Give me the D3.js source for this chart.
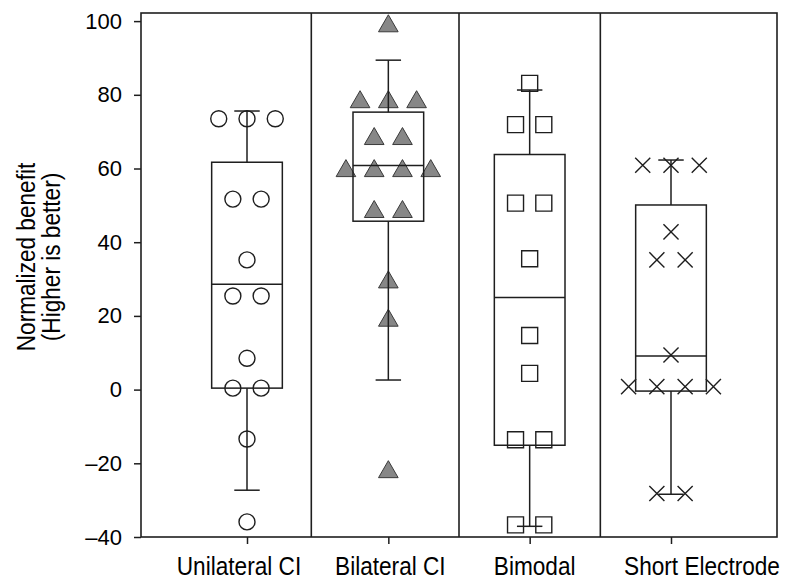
<!DOCTYPE html>
<html>
<head>
<meta charset="utf-8">
<script src="https://cdn.jsdelivr.net/npm/d3@7"></script>
<style>
  body { margin: 0; background: #fff; }
  svg { display: block; font-family: "Liberation Sans", Arial, sans-serif; }
</style>
</head>
<body>
<svg width="787" height="582"></svg>
<script>
// categorias e dados
const categories = ['Unilateral CI', 'Bilateral CI', 'Bimodal', 'Short Electrode'];
const markers = ['circle', 'triangle', 'square', 'cross'];

const unilateral = [73.5, 73.5, 73.5, 51.7, 51.7, 35.2, 25.4, 25.4, 8.5, 0.4, 0.4, -13.4, -35.9];
const bilateral = [99.4, 78.8, 78.8, 78.8, 68.8, 68.8, 60.1, 60.1, 60.1, 60.1, 49.0, 49.0, 29.9, 19.5, -21.6];
const bimodal = [83.1, 71.9, 71.9, 50.6, 50.6, 35.5, 14.7, 4.4, -13.6, -13.6, -36.7, -36.7];
const shortElectrode = [60.9, 60.9, 60.9, 42.8, 35.2, 35.2, 9.4, 0.8, 0.8, 0.8, 0.8, -28.2, -28.2];
const seriesValues = [unilateral, bilateral, bimodal, shortElectrode];

// estatísticas das caixas
const q1 = [0.4, 45.7, -15.1, -0.4];
const median = [28.6, 60.8, 25.0, 9.1];
const q3 = [61.7, 75.3, 63.8, 50.1];
const whiskerLow = [-27.3, 2.6, -37.1, -28.4];
const whiskerHigh = [75.6, 89.4, 81.3, 62.3];

const yTicks = [-40, -20, 0, 20, 40, 60, 80, 100];
const dividers = [1.455, 2.5, 3.5];

function drawChart() {
  const svg = d3.select('svg');
  const left = 141, right = 777, top = 13, bottom = 537;
  const ink = '#1e1e1e';

  const x = d3.scaleLinear().domain([0.25, 4.75]).range([left, right]);
  const y = d3.scaleLinear().domain([-40, 102.2]).range([bottom, top]);

  // Eixo Y
  const gy = svg.append('g')
    .attr('transform', `translate(${left},0)`)
    .call(d3.axisLeft(y).tickValues(yTicks).tickSize(7).tickPadding(12)
      .tickFormat(d => d < 0 ? '\u2013' + Math.abs(d) : d));
  gy.select('.domain').remove();
  gy.selectAll('line').attr('stroke', ink).attr('stroke-width', 1.5);
  gy.selectAll('text').attr('font-size', 22).attr('fill', '#000');

  // Eixo X
  const gx = svg.append('g')
    .attr('transform', `translate(0,${bottom})`)
    .call(d3.axisBottom(x).tickValues([1, 2, 3, 4]).tickSize(7).tickFormat(''));
  gx.select('.domain').remove();
  gx.selectAll('line').attr('stroke', ink).attr('stroke-width', 1.5);

  // moldura e divisórias
  const frame = svg.append('g').attr('stroke', ink).attr('stroke-width', 1.6).attr('fill', 'none');
  frame.append('rect')
    .attr('x', left).attr('y', top)
    .attr('width', right - left).attr('height', bottom - top);
  frame.selectAll('line.div')
    .data(dividers)
    .join('line')
    .attr('class', 'div')
    .attr('x1', d => x(d)).attr('x2', d => x(d))
    .attr('y1', top).attr('y2', bottom);

  // pontos: valores iguais ficam lado a lado
  const symbols = {
    circle: d3.symbol(d3.symbolCircle, 201),
    triangle: d3.symbol(d3.symbolTriangle, 167),
    square: d3.symbol(d3.symbolSquare, 256),
    cross: d3.symbol(d3.symbolX, 150)
  };
  const spacing = 0.2;

  seriesValues.forEach((values, i) => {
    const groups = d3.group(values, v => v);
    const pts = [];
    for (const [v, arr] of groups) {
      arr.forEach((_, k) => pts.push({ v, off: (k - (arr.length - 1) / 2) * spacing }));
    }
    const kind = markers[i];
    const shiftY = kind === 'triangle' ? 2.8 : 0;
    svg.append('g').selectAll('path')
      .data(pts)
      .join('path')
      .attr('d', symbols[kind]())
      .attr('transform', d => `translate(${x(i + 1 + d.off)},${y(d.v) + shiftY})`)
      .attr('fill', kind === 'triangle' ? '#878787' : 'none')
      .attr('stroke', kind === 'triangle' ? '#3a3a3a' : ink)
      .attr('stroke-width', kind === 'triangle' ? 1 : 1.4);
  });

  // caixas e bigodes
  const boxHalf = 0.25;
  const capHalf = 0.09;
  const boxes = svg.append('g').attr('stroke', ink).attr('stroke-width', 1.5).attr('fill', 'none');
  categories.forEach((c, i) => {
    const cx = i + 1;
    boxes.append('rect')
      .attr('x', x(cx - boxHalf)).attr('y', y(q3[i]))
      .attr('width', x(cx + boxHalf) - x(cx - boxHalf))
      .attr('height', y(q1[i]) - y(q3[i]));
    boxes.append('line')
      .attr('x1', x(cx - boxHalf)).attr('x2', x(cx + boxHalf))
      .attr('y1', y(median[i])).attr('y2', y(median[i]));
    [[q3[i], whiskerHigh[i]], [q1[i], whiskerLow[i]]].forEach(([a, b]) => {
      boxes.append('line')
        .attr('x1', x(cx)).attr('x2', x(cx))
        .attr('y1', y(a)).attr('y2', y(b));
      boxes.append('line')
        .attr('x1', x(cx - capHalf)).attr('x2', x(cx + capHalf))
        .attr('y1', y(b)).attr('y2', y(b));
    });
  });

  // rótulos das categorias
  const labelNudge = [-8, 2, 5, 31];
  svg.append('g').selectAll('text')
    .data(categories)
    .join('text')
    .attr('transform', (d, i) => `translate(${x(i + 1) + labelNudge[i]},575) scale(0.87,1)`)
    .attr('text-anchor', 'middle')
    .attr('font-size', 26)
    .attr('fill', '#000')
    .text(d => d);

  // título do eixo Y
  const yLabel = svg.append('text')
    .attr('transform', 'translate(35,257) rotate(-90) scale(0.87,1)')
    .attr('text-anchor', 'middle')
    .attr('font-size', 26)
    .attr('fill', '#000');
  yLabel.append('tspan').attr('x', 0).attr('y', 0).text('Normalized benefit');
  yLabel.append('tspan').attr('x', 0).attr('y', 25).text('(Higher is better)');
}

drawChart();
</script>
</body>
</html>
